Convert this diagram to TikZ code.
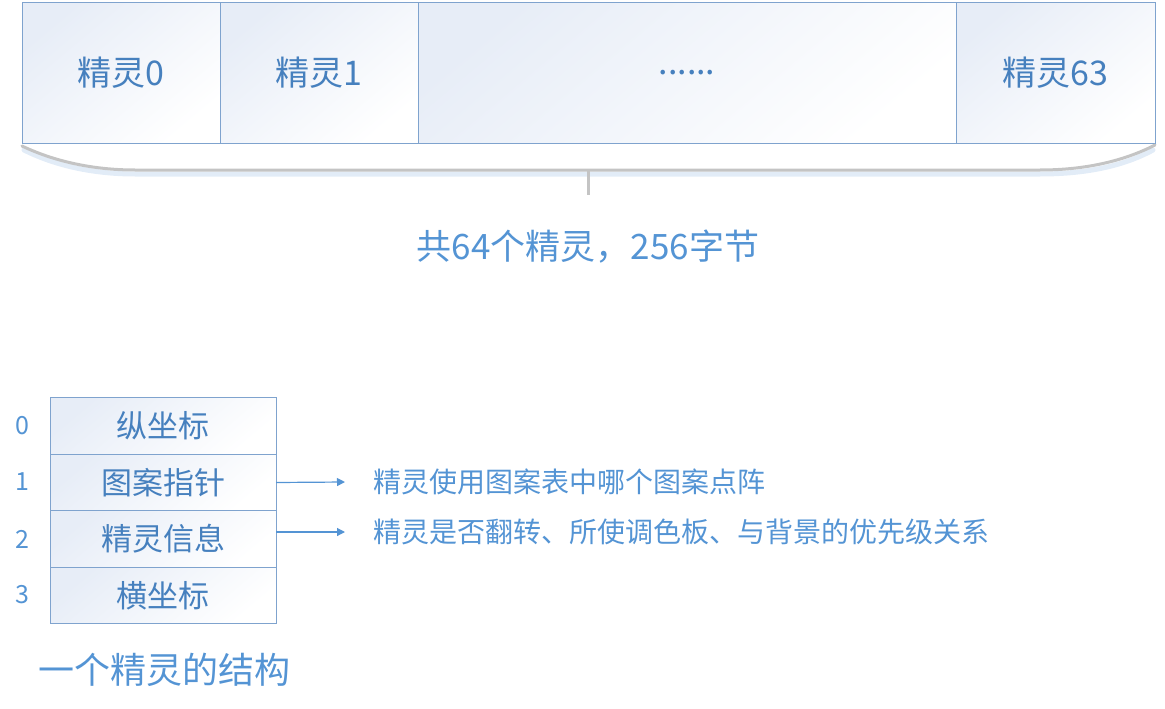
\documentclass[tikz,border=0pt]{standalone}
\usepackage{fontspec}
\setmainfont{Noto Sans CJK SC}
\usetikzlibrary{positioning,arrows.meta}

\definecolor{celline}{RGB}{127,163,206}
\definecolor{cellfill}{RGB}{231,237,247}
\definecolor{labelblue}{RGB}{70,128,190}
\definecolor{notetext}{RGB}{84,148,212}
\definecolor{bracegray}{RGB}{196,196,196}
\definecolor{braceshadow}{RGB}{214,228,244}

\tikzset{
  cell/.style={draw=celline, line width=1pt, top color=cellfill, middle color=white, bottom color=white, shading angle=40,
    minimum height=140pt, inner sep=0pt, outer sep=0pt, text=labelblue, font=\fontsize{34}{40}\selectfont},
  field/.style={draw=celline, line width=1pt, top color=cellfill, middle color=white, bottom color=white, shading angle=40,
    minimum width=226pt, minimum height=56.5pt, inner sep=0pt, outer sep=0pt, text=labelblue, font=\fontsize{31}{36}\selectfont},
  idx/.style={text=notetext, font=\fontsize{25}{28}\selectfont},
  note/.style={anchor=west, text=notetext, font=\fontsize{28}{32}\selectfont, inner sep=0pt},
  pointer/.style={notetext, line width=1.2pt, -{Triangle[length=8pt,width=8pt]}}
}

\begin{document}
\begin{tikzpicture}[x=1pt,y=-1pt]
    \useasboundingbox (0,0) rectangle (1165,709);

    % 64 sprites
    \node [cell, minimum width=198pt] (spr0) at (121,73) {精灵0};
    \node [cell, minimum width=198pt, right=0pt of spr0] (spr1) {精灵1};
    \node [cell, minimum width=538pt, right=0pt of spr1] (sprdots) {......};
    \node [cell, minimum width=199pt, right=0pt of sprdots] (spr63) {精灵63};

    % brace
    \draw [braceshadow, line width=5pt, line cap=round, opacity=0.7] (24,150) .. controls (60,168) and (100,174) .. (135,174) -- (1040,174) .. controls (1080,174) and (1120,168) .. (1153,150);
    \draw [bracegray, line width=3pt, line cap=round] (spr0.south west) ++(0,3) .. controls (60,164) and (100,170) .. (135,170) -- (1040,170) .. controls (1080,170) and (1120,163) .. (1155,145);
    \draw [bracegray, line width=3pt] (588,170) -- (588,195);
    \node [text=notetext, font=\fontsize{35}{40}\selectfont] (total) at (588,247) {共64个精灵，256字节};

    % one sprite
    \node [field] (ycoord) at (163,426) {纵坐标};
    \node [field, below=0pt of ycoord] (ptr) {图案指针};
    \node [field, below=0pt of ptr] (info) {精灵信息};
    \node [field, below=0pt of info] (xcoord) {横坐标};

    \node [idx] (i0) at (22,426) {0};
    \node [idx] (i1) at (22,482) {1};
    \node [idx] (i2) at (22,539) {2};
    \node [idx] (i3) at (22,595) {3};

    \coordinate (ptrend) at (345,482);
    \coordinate (infoend) at (345,532);
    \draw [pointer] (ptr.east) -- (ptrend);
    \draw [pointer] (info.east |- infoend) -- (infoend);
    \node [note] (ptrnote) at (373,482) {精灵使用图案表中哪个图案点阵};
    \node [note] (infonote) at (373,532) {精灵是否翻转、所使调色板、与背景的优先级关系};

    \node [text=notetext, font=\fontsize{36}{42}\selectfont, anchor=west, inner sep=0pt] (title) at (38,670) {一个精灵的结构};
\end{tikzpicture}
\end{document}
